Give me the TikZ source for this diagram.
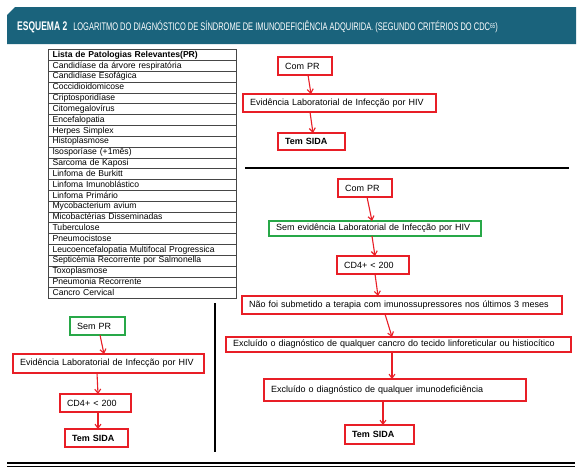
\documentclass[tikz,border=0pt]{standalone}
\usepackage{fontspec}
\setmainfont{Liberation Sans}
\newfontfamily\titlefont[FakeStretch=0.68]{Liberation Sans}
\usetikzlibrary{arrows.meta,matrix}

\definecolor{sred}{RGB}{232,30,38}
\definecolor{sgreen}{RGB}{40,168,72}
\definecolor{titleblue}{RGB}{26,99,124}
\definecolor{tablegray}{RGB}{70,70,70}

\tikzset{
  flowbox/.style={draw=sred, line width=1.8pt, inner xsep=7pt, inner ysep=0pt,
    outer sep=0pt, align=left, anchor=north west, font=\fontsize{9}{10}\selectfont},
  greenbox/.style={flowbox, draw=sgreen},
  flowarrow/.style={draw=sred, line width=1.1pt, -{Straight Barb[length=4pt,width=6pt]}},
}

\begin{document}
\begin{tikzpicture}[x=1pt, y=-1pt]
\useasboundingbox (0,0) rectangle (580,475);
\fill[white] (0,0) rectangle (580,475);

% title bar
\fill[titleblue] (7,15) -- (15,7) -- (576,7) -- (576,44) -- (7,44) -- cycle;
\node[anchor=west, text=white, inner sep=0pt] (title) at (17,27)
  {\titlefont\fontsize{12.5}{12.5}\selectfont\bfseries ESQUEMA 2\hspace{6pt}%
   \fontsize{11}{11}\selectfont\mdseries LOGARITMO DO DIAGNÓSTICO DE SÍNDROME DE IMUNODEFICIÊNCIA ADQUIRIDA. (SEGUNDO CRITÉRIOS DO CDC{\fontsize{7}{7}\selectfont\raisebox{2.5pt}{65}})};

% list of pathologies
\matrix (pr) [matrix of nodes, anchor=north west, inner sep=0pt, row sep=-0.7pt,
    nodes={draw=tablegray, line width=0.7pt, outer sep=0pt, text width=180pt,
      inner xsep=4pt, inner ysep=0pt, text height=6.4pt, text depth=1.9pt,
      minimum height=10.83pt, anchor=center,
      font=\fontsize{8.6}{9}\selectfont, align=left}]
  at (48,49)
{
    |[font=\fontsize{8.6}{9}\selectfont\bfseries]| Lista de Patologias Relevantes(PR) \\
    Candidíase da árvore respiratória \\
    Candidíase Esofágica \\
    Coccidioidomicose \\
    Criptosporidíase \\
    Citomegalovírus \\
    Encefalopatia \\
    Herpes Simplex \\
    Histoplasmose \\
    Isosporíase (+1mês) \\
    Sarcoma de Kaposi \\
    Linfoma de Burkitt \\
    Linfoma Imunoblástico \\
    Linfoma Primário \\
    Mycobacterium avium \\
    Micobactérias Disseminadas \\
    Tuberculose \\
    Pneumocistose \\
    Leucoencefalopatia Multifocal Progressica \\
    Septicémia Recorrente por Salmonella \\
    Toxoplasmose \\
    Pneumonia Recorrente \\
    Cancro Cervical \\
};

% with PR
\node[flowbox, text width=40pt, minimum height=18pt] (comA) at (278,57) {Com PR};
\node[flowbox, text width=179pt, minimum height=18pt] (evidA) at (243,94) {Evidência Laboratorial de Infecção por HIV};
\node[flowbox, text width=53pt, minimum height=17pt] (temA) at (278,133) {\bfseries Tem SIDA};
\draw[flowarrow] ([xshift=3pt]comA.south) -- ([xshift=-28.5pt]evidA.north);
\draw[flowarrow] ([xshift=-29.5pt]evidA.south) -- ([xshift=1.5pt]temA.north);

\draw[line width=2.5pt] (245,168) -- (569,168);

% with PR, no HIV evidence
\node[flowbox, text width=40pt, minimum height=18pt] (comB) at (338,179) {Com PR};
\node[greenbox, text width=198pt, minimum height=15pt] (semB) at (269,221) {Sem evidência Laboratorial de Infecção por HIV};
\node[flowbox, text width=58pt, minimum height=18pt] (cd4B) at (337,256) {CD4+ < 200};
\node[flowbox, text width=306pt, minimum height=18pt] (naoB) at (242,296) {Não foi submetido a terapia com imunossupressores nos últimos 3 meses};
\node[flowbox, text width=331pt, minimum height=15pt] (excB) at (226,337) {Excluído o diagnóstico de qualquer cancro do tecido linforeticular ou histiocítico};
\node[flowbox, text width=248pt, minimum height=22pt] (imuB) at (264,379) {Excluído o diagnóstico de qualquer imunodeficiência};
\node[flowbox, text width=55pt, minimum height=19pt] (temB) at (345,425) {\bfseries Tem SIDA};
\draw[flowarrow] ([xshift=2pt]comB.south) -- ([xshift=-3pt]semB.north);
\draw[flowarrow] ([xshift=-3pt]semB.south) -- ([xshift=2pt]cd4B.north);
\draw[flowarrow] ([xshift=2pt]cd4B.south) -- ([xshift=-24pt]naoB.north);
\draw[flowarrow] ([xshift=-17pt]naoB.south) -- ([xshift=-6.5pt]excB.north);
\draw[flowarrow] ([xshift=-6.5pt]excB.south) -- ([xshift=-3pt]imuB.north);
\draw[flowarrow] ([xshift=-12pt]imuB.south) -- ([xshift=3.5pt]temB.north);

\draw[line width=2pt] (215,303) -- (215,452);

% without PR
\node[greenbox, text width=41pt, minimum height=18pt] (semC) at (70,317) {Sem PR};
\node[flowbox, text width=177pt, minimum height=19pt] (evidC) at (13,354) {Evidência Laboratorial de Infecção por HIV};
\node[flowbox, text width=57pt, minimum height=18pt] (cd4C) at (60,394) {CD4+ < 200};
\node[flowbox, text width=49pt, minimum height=18pt] (temC) at (65,429) {\bfseries Tem SIDA};
\draw[flowarrow] ([xshift=2.5pt]semC.south) -- ([xshift=-4.5pt]evidC.north);
\draw[flowarrow] ([xshift=-11.5pt]evidC.south) -- ([xshift=2.5pt]cd4C.north);
\draw[flowarrow] ([xshift=2.5pt]cd4C.south) -- ([xshift=1.5pt]temC.north);

% closing rule
\draw[line width=2pt] (7,462.7) -- (575,462.7);
\draw[line width=1.2pt] (7,466.3) -- (575,466.3);
\end{tikzpicture}
\end{document}
